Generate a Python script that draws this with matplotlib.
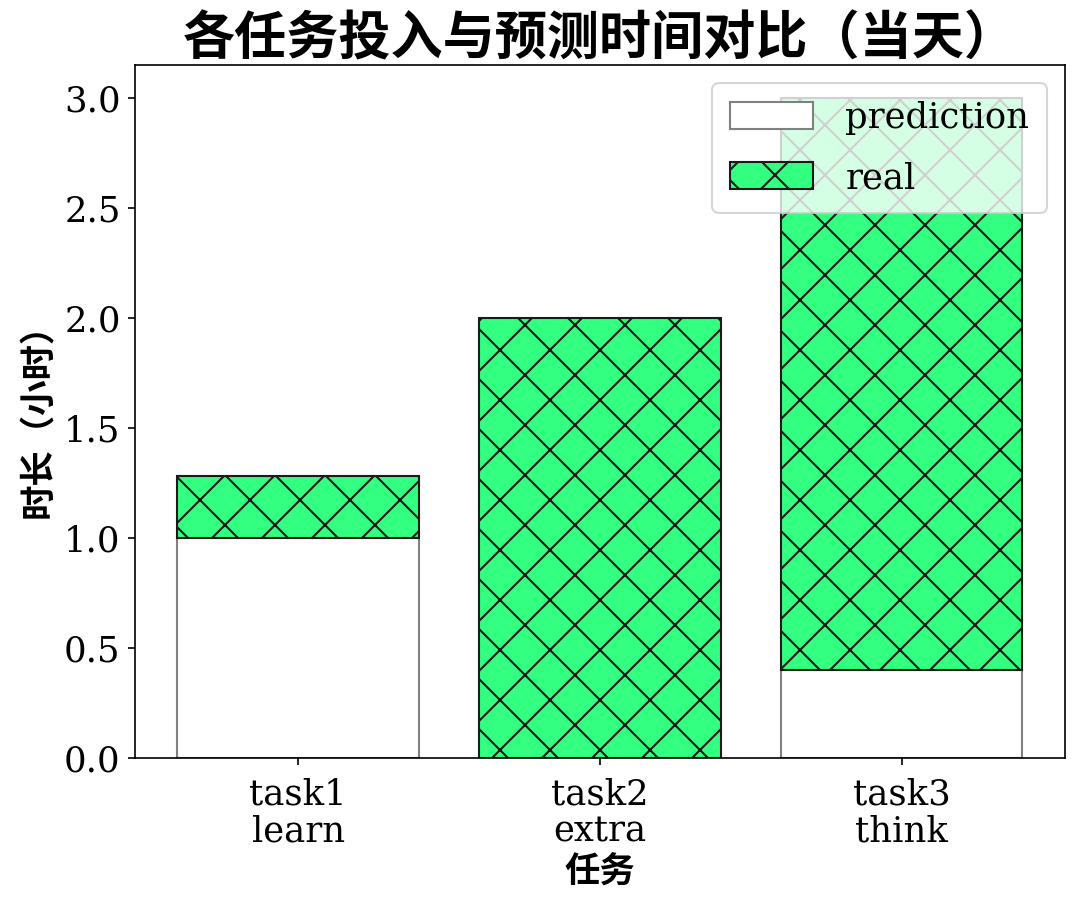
import numpy as np
import matplotlib
matplotlib.use("Agg")
import matplotlib.pyplot as plt

tasks = ["task1\nlearn", "task2\nextra", "task3\nthink"]
prediction = [1.0, 0.0, 0.4]
real_extra = [0.28, 2.0, 2.6]
yticks = [0.0, 0.5, 1.0, 1.5, 2.0, 2.5, 3.0]

serif = ["DejaVu Serif"]
cjk = ["Noto Sans CJK SC", "DejaVu Sans"]

fig, ax = plt.subplots(figsize=(1082 / 150, 904 / 150), dpi=150)
fig.subplots_adjust(left=0.125, right=0.984, top=0.928, bottom=0.1615)

x = np.arange(len(tasks))
ax.bar(x, prediction, width=0.8, color="white", edgecolor="gray", label="prediction")
ax.bar(x, real_extra, width=0.8, bottom=prediction, color="#33ff80",
       edgecolor="#1a1a1a", hatch="x", label="real")

ax.set_xticks(x)
ax.set_xticklabels(tasks, fontfamily=serif, fontsize=17, linespacing=1.1)
ax.tick_params(axis="x", pad=6)
ax.set_yticks(yticks)
ax.set_yticklabels([f"{v:.1f}" for v in yticks], fontfamily=serif, fontsize=17)

ax.set_title("各任务投入与预测时间对比（当天）", fontfamily=cjk, fontsize=25,
             fontweight="heavy", pad=4)
ax.set_xlabel("任务", fontfamily=cjk, fontsize=17, fontweight="heavy", labelpad=3)
ax.set_ylabel("时长（小时）", fontfamily=cjk, fontsize=17, fontweight="heavy", labelpad=4)

ax.legend(loc="upper right", prop={"family": serif, "size": 17},
          handlelength=2.35, handleheight=0.8, labelspacing=0.75,
          borderpad=0.5, handletextpad=0.9, borderaxespad=0.5)

fig.savefig("out.png", dpi=150)
